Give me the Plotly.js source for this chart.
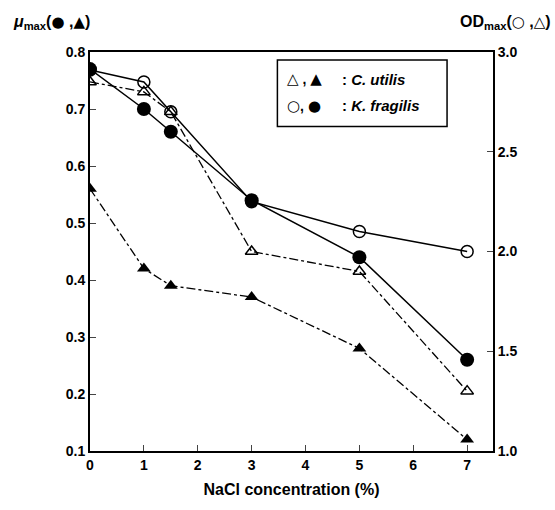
<!DOCTYPE html>
<html><head><meta charset="utf-8">
<script src="https://cdn.plot.ly/plotly-3.0.1.min.js"></script>
<style>html,body{margin:0;padding:0;background:#fff}</style>
</head><body><div id="chart" style="width:555px;height:510px"></div>
<script>
const nacl = [0, 1, 1.5, 3, 5, 7];
const kfMu = [0.77, 0.70, 0.66, 0.54, 0.44, 0.26];
const cuMu = [0.56, 0.42, 0.39, 0.37, 0.28, 0.12];
const kfOD = [2.91, 2.85, 2.70, 2.25, 2.10, 2.00];
const cuOD = [2.85, 2.80, 2.70, 2.00, 1.90, 1.30];
const xTicks = [0, 1, 2, 3, 4, 5, 6, 7];
const yLeftTicks = [0.1, 0.2, 0.3, 0.4, 0.5, 0.6, 0.7, 0.8];
const yRightTicks = [1.0, 1.5, 2.0, 2.5, 3.0];

const F = 'Arial, "Liberation Sans", sans-serif';
const traces = [
  {x: nacl, y: kfOD, yaxis: 'y2', mode: 'lines+markers', line: {color: '#000', width: 1.5},
   marker: {symbol: 'circle-open', size: 12, color: '#000', line: {width: 1.5, color: '#000'}}},
  {x: nacl, y: cuOD, yaxis: 'y2', mode: 'lines+markers', line: {color: '#000', width: 1.3, dash: 'dashdot'},
   marker: {symbol: 'triangle-up-open', size: 11, color: '#000', line: {width: 1.5, color: '#000'}}},
  {x: nacl, y: kfMu, mode: 'lines+markers', line: {color: '#000', width: 1.5},
   marker: {symbol: 'circle', size: 14, color: '#000'}},
  {x: nacl, y: cuMu, mode: 'lines+markers', line: {color: '#000', width: 1.3, dash: 'dashdot'},
   marker: {symbol: 'triangle-up', size: 12, color: '#000'}}
];
const axFont = {family: F, size: 14, color: '#000', weight: 'bold'};
const sym = s => '<span style="font-family:\'DejaVu Sans\';font-size:15px">' + s + '</span>';
const layout = {
  width: 555, height: 510,
  margin: {l: 90, r: 62, t: 52, b: 59},
  paper_bgcolor: '#fff', plot_bgcolor: '#fff',
  showlegend: false,
  font: {family: F, color: '#000'},
  xaxis: {range: [0, 7.48], tickvals: xTicks, ticktext: xTicks.map(String), ticks: 'inside', ticklen: 6,
    showgrid: false, zeroline: false, showline: true, linecolor: '#000', linewidth: 2, mirror: true,
    tickfont: axFont, title: {text: '<b>NaCl concentration (%)</b>', font: {family: F, size: 16, color: '#000'}, standoff: 12}},
  yaxis: {range: [0.1, 0.8], tickvals: yLeftTicks, ticktext: yLeftTicks.map(v => v.toFixed(1)), ticks: 'inside', ticklen: 6,
    showgrid: false, zeroline: false, showline: true, linecolor: '#000', linewidth: 2,
    tickfont: axFont},
  yaxis2: {range: [1.0, 3.0], overlaying: 'y', side: 'right', tickvals: yRightTicks, ticktext: yRightTicks.map(v => v.toFixed(1)),
    ticks: 'inside', ticklen: 6, showgrid: false, zeroline: false, showline: true, linecolor: '#000', linewidth: 2,
    tickfont: axFont},
  shapes: [
    {type: 'rect', xref: 'paper', yref: 'paper', x0: 0.465, x1: 0.886, y0: 0.813, y1: 0.98, line: {color: '#000', width: 1.5}, fillcolor: '#fff'}
  ],
  annotations: [
    {xref: 'paper', yref: 'paper', x: -0.195, y: 1.045, xanchor: 'left', yanchor: 'bottom', showarrow: false,
     text: '<b><i>μ</i><sub>max</sub>(' + sym('●') + ' ,' + sym('▲') + ')</b>', font: {family: F, size: 16, color: '#000'}},
    {xref: 'paper', yref: 'paper', x: 1.148, y: 1.045, xanchor: 'right', yanchor: 'bottom', showarrow: false,
     text: '<b>OD<sub>max</sub>(' + sym('○') + ' ,' + sym('△') + ')</b>', font: {family: F, size: 16, color: '#000'}},
    {xref: 'paper', yref: 'paper', x: 0.485, y: 0.932, xanchor: 'left', yanchor: 'middle', showarrow: false,
     text: '<b>' + sym('△') + ' , ' + sym('▲') + '</b>', font: {family: F, size: 14, color: '#000'}},
    {xref: 'paper', yref: 'paper', x: 0.485, y: 0.865, xanchor: 'left', yanchor: 'middle', showarrow: false,
     text: '<b>' + sym('○') + ', ' + sym('●') + '</b>', font: {family: F, size: 14, color: '#000'}},
    {xref: 'paper', yref: 'paper', x: 0.62, y: 0.932, xanchor: 'left', yanchor: 'middle', showarrow: false,
     text: '<b>: <i>C. utilis</i></b>', font: {family: F, size: 15, color: '#000'}},
    {xref: 'paper', yref: 'paper', x: 0.62, y: 0.865, xanchor: 'left', yanchor: 'middle', showarrow: false,
     text: '<b>: <i>K. fragilis</i></b>', font: {family: F, size: 15, color: '#000'}}
  ]
};
Plotly.newPlot('chart', traces, layout, {displayModeBar: false, staticPlot: true});
</script></body></html>
